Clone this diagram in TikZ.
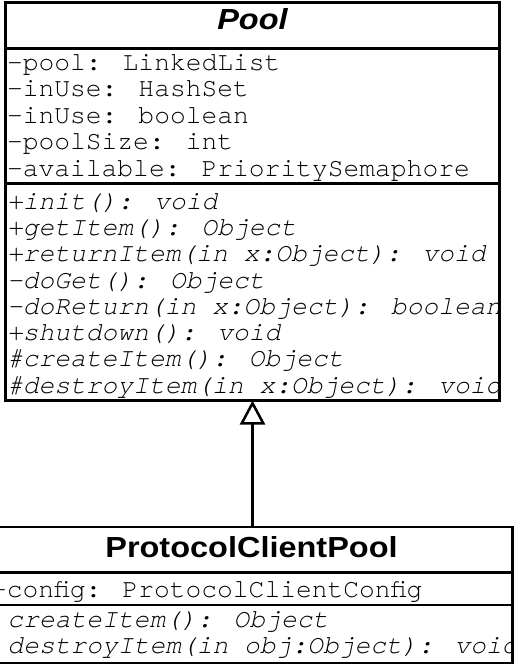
\documentclass[tikz,border=0pt]{standalone}
\usepackage{fontspec}
\usetikzlibrary{arrows.meta}
\newfontfamily\umlmono{TeX Gyre Cursor}
\newfontfamily\umlsans[FakeStretch=1.12]{Liberation Sans}

\tikzset{
  x=1pt, y=1pt,
  classbox/.style={draw, inner sep=0pt, outer sep=0pt},
  member/.style={anchor=base west, inner sep=0pt, outer sep=0pt,
    font=\umlmono\fontsize{26.3}{26.3}\selectfont},
  operation/.style={anchor=base west, inner sep=0pt, outer sep=0pt,
    font=\umlmono\itshape\fontsize{26.3}{26.3}\selectfont},
  classname/.style={anchor=base, inner sep=0pt, outer sep=0pt,
    font=\umlsans\bfseries\fontsize{29}{29}\selectfont},
  generalization/.style={line width=2.5pt,
    -{Triangle[open, length=24pt, width=25pt]}},
}

\begin{document}
\begin{tikzpicture}
\useasboundingbox[fill=white] (0,0) rectangle (515,-665);

% ---------- class Pool ----------
\node[classbox, line width=3pt, minimum width=494pt, minimum height=398.5pt]
  (pool) at (252.5,-201.25) {};
\begin{scope}
  \clip (pool.south west) rectangle (pool.north east);
  \node[classname, font=\umlsans\bfseries\itshape\fontsize{29}{29}\selectfont]
    (poolname) at (252.5,-29.5) {Pool};
  \node[member] (a1) at (7,-70)    {-pool: LinkedList};
  \node[member] (a2) at (7,-96.5)  {-inUse: HashSet};
  \node[member] (a3) at (7,-123)   {-inUse: boolean};
  \node[member] (a4) at (7,-149.5) {-poolSize: int};
  \node[member] (a5) at (7,-176)   {-available: PrioritySemaphore};
  \node[operation] (m1) at (7,-209)   {+init(): void};
  \node[operation] (m2) at (7,-235.3) {+getItem(): Object};
  \node[operation] (m3) at (7,-261.6) {+returnItem(in x:Object): void};
  \node[operation] (m4) at (7,-288)   {-doGet(): Object};
  \node[operation] (m5) at (7,-314)   {-doReturn(in x:Object): boolean};
  \node[operation] (m6) at (7,-340.3) {+shutdown(): void};
  \node[operation] (m7) at (7,-366.6) {\#createItem(): Object};
  \node[operation] (m8) at (7,-393)   {\#destroyItem(in x:Object): void};
\end{scope}
\draw[line width=3pt] (pool.west |- 0,-48) -- (pool.east |- 0,-48);
\draw[line width=3pt] (pool.west |- 0,-183) -- (pool.east |- 0,-183);
\node[classbox, line width=3pt, minimum width=494pt, minimum height=398.5pt]
  at (pool.center) {};

% ---------- class ProtocolClientPool ----------
\node[classbox, line width=2.5pt, minimum width=524.5pt, minimum height=136pt]
  (pcp) at (250.25,-595) {};
\begin{scope}
  \clip (pcp.south west) rectangle (pcp.north east);
  \node[classname] (pcpname) at (251.5,-557) {ProtocolClientPool};
  \node[member] (c1) at (-9,-597) {-config: ProtocolClientConfig};
  \node[operation] (c2) at (7.5,-627)   {createItem(): Object};
  \node[operation] (c3) at (7.5,-653.5) {destroyItem(in obj:Object): void};
\end{scope}
\draw[line width=2.5pt] (pcp.west |- 0,-572.5) -- (pcp.east |- 0,-572.5);
\draw[line width=2.5pt] (pcp.west |- 0,-605) -- (pcp.east |- 0,-605);

% ---------- inheritance ----------
\draw[generalization] (pool.south |- pcp.north) -- (pool.south);
\end{tikzpicture}
\end{document}
